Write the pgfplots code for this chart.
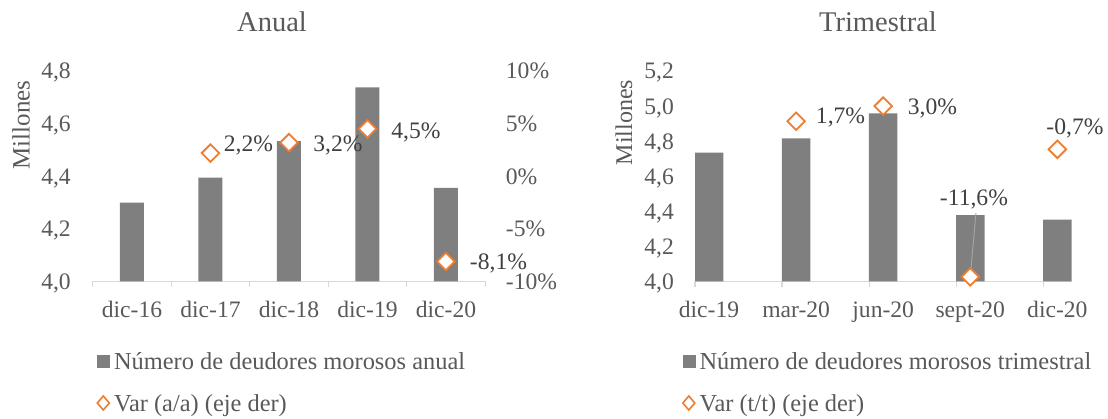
\documentclass[border=0pt]{standalone}
\usepackage{fontspec}
\setmainfont{Liberation Serif}
\usepackage{pgfplots}
\usepackage{pgfplotstable}
\pgfplotsset{compat=1.18}
\definecolor{bargray}{HTML}{7F7F7F}
\definecolor{txtgray}{HTML}{595959}
\definecolor{lblgray}{HTML}{404040}
\definecolor{axgray}{HTML}{D9D9D9}
\definecolor{orng}{HTML}{ED7D31}
\newcommand\fs{\fontsize{23.6}{28}\selectfont}
\newcommand\fl{\fontsize{24.4}{29}\selectfont}

\pgfplotstableread{
x val
0 4.300
1 4.395
2 4.533
3 4.738
4 4.356
}\anualbars
\pgfplotstableread{
x var
1 2.2
2 3.2
3 4.5
4 -8.1
}\anualvar
\pgfplotstableread{
x val
0 4.735
1 4.816
2 4.959
3 4.379
4 4.352
}\trimbars
\pgfplotstableread{
x var
1 1.7
2 3.0
3 -11.6
4 -0.7
}\trimvar

\tikzset{lbl/.style={font=\fs, text=lblgray, inner sep=0pt, text height=16pt, text depth=0pt, anchor=center}}
\pgfplotsset{
  common/.style={
    scale only axis, anchor=south west, height=210.5pt,
    tick label style={font=\fs, text=txtgray, inner sep=0pt, text height=16pt, text depth=0pt},
    major tick length=0pt,
  },
  prim/.style={
    common,
    axis x line*=bottom, axis y line*=left,
    x axis line style={draw=axgray, line width=1.3pt},
    y axis line style={draw=none},
    ytick style={draw=none},
    minor tick length=5.5pt, tick align=outside,
    minor x tick style={draw=axgray, line width=1.3pt},
    xticklabel style={anchor=center, yshift=-28.5pt},
    title style={anchor=base, inner sep=0pt, font=\fontsize{28.5}{32}\selectfont, text=txtgray},
    ylabel style={anchor=center, inner sep=0pt, font=\fontsize{24}{28}\selectfont, text=txtgray},
  },
  leg/.style={
    legend style={draw=none, fill=none, inner sep=0pt, outer sep=0pt,
      row sep=25pt, column sep=4pt, font=\fl, text=txtgray,
      nodes={inner sep=0pt, text height=16.5pt, text depth=0pt}},
    legend cell align=left,
  },
  mk/.style={only marks, mark=square*, mark size=6.2pt,
    mark options={rotate=45, fill=white, draw=orng, line width=1.8pt},
    legend image code/.code={\draw[orng, fill=white, line width=1.6pt] (6pt,-7pt) -- (12pt,0pt) -- (6pt,7pt) -- (0pt,0pt) -- cycle;}},
}

\begin{document}
\begin{tikzpicture}
\useasboundingbox (0,0) rectangle (1108pt,419pt);

% ---------- Anual ----------
\begin{axis}[prim,
  at={(92.7pt,137.5pt)}, width=392.5pt,
  xmin=-0.5, xmax=4.5, ymin=4.0, ymax=4.8,
  xtick={0,1,2,3,4}, xticklabels={dic-16,dic-17,dic-18,dic-19,dic-20},
  minor xtick={-0.5,0.5,1.5,2.5,3.5,4.5},
  ytick={4.0,4.2,4.4,4.6,4.8}, yticklabels={{4,0},{4,2},{4,4},{4,6},{4,8}},
  yticklabel style={anchor=east, xshift=-21.7pt},
  title={Anual}, title style={at={(axis description cs:0.457,1.160)}},
  ylabel={Millones}, ylabel style={at={(axis description cs:-0.1827,0.7435)}, font=\fontsize{25}{29}\selectfont},
]
\addplot[ybar, bar width=24pt, fill=bargray, draw=none] table[x=x,y=val]{\anualbars};
\end{axis}

\begin{axis}[common, leg,
  at={(92.7pt,137.5pt)}, width=392.5pt,
  xmin=-0.5, xmax=4.5, ymin=-10, ymax=10,
  axis x line=none, axis y line*=right, xtick=\empty,
  y axis line style={draw=none}, ytick style={draw=none},
  ytick={-10,-5,0,5,10}, yticklabels={-10\%,-5\%,0\%,5\%,10\%},
  yticklabel style={anchor=west, xshift=20.5pt},
  clip=false,
  legend style={at={(axis description cs:0.0097,-0.3409)}, anchor=north west},
]
\addlegendimage{legend image code/.code={\fill[bargray] (0pt,-6pt) rectangle (12pt,6pt);}}
\addlegendentry{Número de deudores morosos anual}
\addplot[mk] table[x=x,y=var]{\anualvar};
\addlegendentry{Var (a/a) (eje der)}
\node[lbl] at (axis cs:1.484,3.064) {2,2\%};
\node[lbl] at (axis cs:2.624,3.064) {3,2\%};
\node[lbl] at (axis cs:3.618,4.328) {4,5\%};
\node[lbl] at (axis cs:4.669,-8.147) {-8,1\%};
\end{axis}

% ---------- Trimestral ----------
\begin{axis}[prim,
  at={(695pt,137.5pt)}, width=377pt,
  xmin=-0.161, xmax=4.168, ymin=4.0, ymax=5.2,
  xtick={0,1,2,3,4}, xticklabels={dic-19,mar-20,jun-20,sept-20,dic-20},
  minor xtick={-0.161,0.839,1.839,2.839,3.839},
  ytick={4.0,4.2,4.4,4.6,4.8,5.0,5.2}, yticklabels={{4,0},{4,2},{4,4},{4,6},{4,8},{5,0},{5,2}},
  yticklabel style={anchor=east, xshift=-21pt},
  title={Trimestral}, title style={at={(axis description cs:0.4854,1.160)}},
  ylabel={Millones}, ylabel style={at={(axis description cs:-0.1883,0.7553)}},
]
\addplot[ybar, bar width=28.5pt, fill=bargray, draw=none] table[x=x,y=val]{\trimbars};
\end{axis}

\begin{axis}[common, leg,
  at={(695pt,137.5pt)}, width=377pt,
  xmin=-0.161, xmax=4.168, ymin=-12, ymax=6,
  hide axis, clip=false,
  legend style={at={(axis description cs:-0.0345,-0.3409)}, anchor=north west},
]
\addlegendimage{legend image code/.code={\fill[bargray] (0pt,-6pt) rectangle (12pt,6pt);}}
\addlegendentry{Número de deudores morosos trimestral}
\addplot[mk] table[x=x,y=var]{\trimvar};
\addlegendentry{Var (t/t) (eje der)}
\draw[black!35, line width=0.9pt] (axis cs:3.065,-6.142) -- (axis cs:3,-11.6);
\node[lbl] at (axis cs:1.510,2.153) {1,7\%};
\node[lbl] at (axis cs:2.566,2.922) {3,0\%};
\node[lbl] at (axis cs:4.202,1.238) {-0,7\%};
\node[lbl] at (axis cs:3.042,-4.860) {-11,6\%};
\end{axis}
\end{tikzpicture}
\end{document}
